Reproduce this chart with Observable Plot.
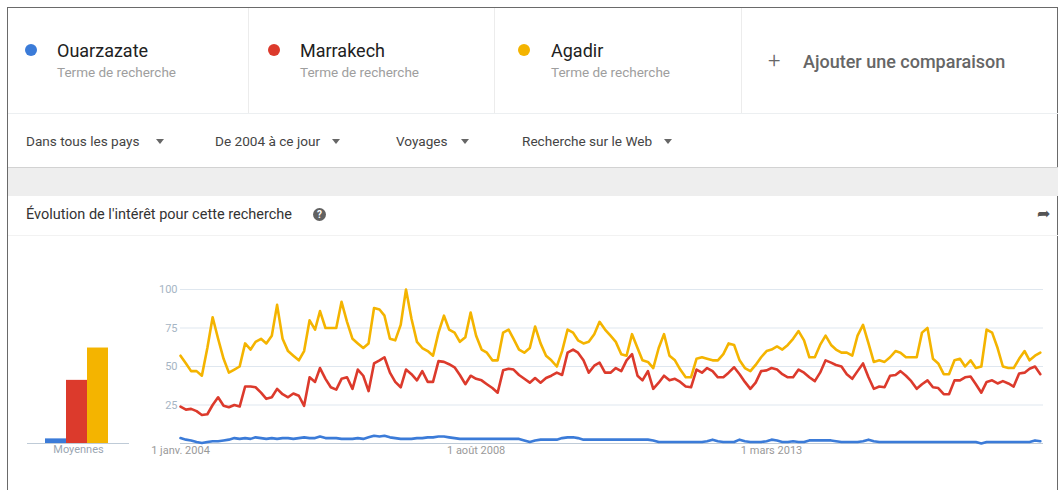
<!DOCTYPE html>
<html><head><meta charset="utf-8">
<script src="https://cdn.jsdelivr.net/npm/d3@7"></script>
<script src="https://cdn.jsdelivr.net/npm/@observablehq/plot@0.6"></script>
<style>
body{margin:0;background:#fff;font-family:Roboto,"Noto Sans",sans-serif;}
#page{position:relative;width:1060px;height:490px;overflow:hidden;background:#fff;}
.a{position:absolute;white-space:nowrap;}
.name{font-size:18px;line-height:18px;color:#212121;}
.sub{font-size:13.5px;line-height:14px;color:#9e9e9e;}
.dot{width:12px;height:12px;border-radius:50%;}
.flt{font-size:13.6px;line-height:14px;color:#444;}
.tri{width:0;height:0;border-left:4px solid transparent;border-right:4px solid transparent;border-top:5px solid #666;}
.vsep{width:1px;background:#ececec;top:8px;height:106px;}
</style></head><body><div id="page"></div>
<script>
// ---------- data ----------
const series = ["Ouarzazate", "Marrakech", "Agadir"];
const seriesColors = ["#3b7bd8", "#dc3a2c", "#f4b400"];
const subtitle = "Terme de recherche";
const filters = ["Dans tous les pays", "De 2004 à ce jour", "Voyages", "Recherche sur le Web"];
const sectionTitle = "Évolution de l'intérêt pour cette recherche";
const addLabel = "Ajouter une comparaison";
const averagesLabel = "Moyennes";
const averages = [3, 41, 62];
const yTicks = [25, 50, 75, 100];
const xTickDates = ["2004-01-01", "2008-08-01", "2013-03-01"];
const xTickLabels = ["1 janv. 2004", "1 août 2008", "1 mars 2013"];
const firstMonth = "2004-01-01";

const ouarzazate = [
 3.5,2.5,2,1,0.3,1,1.5,1.5,2,2.5,
 3.5,3,3.5,3,4,3.5,3,3.5,3,3.5,
 3.5,3,3.5,4,3.5,3.5,4.5,3.5,3.5,3.5,
 3,3,3,3.5,3,4,5,4.5,5,4,
 3.5,3,3,3,3.5,3.5,4,4,4.5,4.5,
 4,3.5,3,3,3,3,3,3,3,3,
 3,3,3,3,2,1,2,2.5,2.5,2.5,
 2.5,3.5,4,4,3.5,2.5,2.5,2.5,2.5,2.5,
 2.5,2.5,2.5,2.5,2.5,2.5,2.5,2.5,2,1,
 1,1,1,1,1,1,1,1,1.5,2.5,
 1.5,1,1,1,2.5,1.5,1,1,1,1.5,
 2.5,2,1,1,1.5,1,1,2,2,2,
 2,2,1.5,1,1,1,1,1.5,2.5,1.5,
 1,1,1,1,1,1,1,1,1,1,
 1,1,1,1,1,1,1,1,1,0,
 1,1,1,1,1,1,1,1,1,2,1.5
];
const marrakech = [
 24,22,22.5,21,18.5,19,25,30,24.5,23.5,
 25,24,37,37,36.5,33,29,30,35.5,32,
 30,32.5,31,24.5,43,40,49,42,36.5,35,
 42,43,35.5,48,44,34,52,54,56,46,
 40,36.5,48,45,41,47,40,40,53.5,53,
 51.5,49.5,44.5,38.5,44,42,41,38.5,36,33,
 47.5,48.5,48,44.5,42,39.5,42.5,39.5,42.5,44,
 46,44.5,59,61,59,54,46,50.5,52.5,46,
 46,49,47,54,58,44,41,47,35.5,39.5,
 44,41,42,40,37,36.5,48,46,49,47,
 43,43,46,49.5,45,40,35.5,39.5,47,47.5,
 49,48,45,43,43,48,46,43,40.5,46,
 54,52.5,51,50,45,42,47,52,43,35.5,
 37,36.5,44,44.5,47,44,40.5,35.5,38.5,41,
 36.5,36,32,32,41,41,43,43.5,38.5,33,
 40,41,39,40.5,39,37,45.5,46,48.5,50,45
];
const agadir = [
 57,52,47,47,44,62,82,68,55,46,
 48,50,65,61,66,68,65,70,90,68,
 60,57,54,60,80,74,86,75,75,75,
 92,79,68,65,62,65,88,87,83,68,
 67,77,100,81,66,62,60,57,72,83,
 74,72,66,69,85,70,61,59,54,54,
 72,74,68,61,59,62,76,65,57,54,
 50,60,74,72,67,65,66,71,79,74,
 70,66,58,57,71,62,54,53,49,62,
 71,57,54,48,43,43,55,56,55,54,
 54,58,65,64,54,49,47,51,56,60,
 61,63,61,64,68,73,67,56,56,64,
 70,64,61,59,59,57,70,77,65,53,
 54,53,56,60,59,56,56,56,72,75,
 55,52,45,45,54,55,50,54,49,50,
 74,72,62,50,49,49,55,60,54,57,59
];

// ---------- page chrome ----------
const page = document.getElementById("page");
function el(cls, style, text) {
  const d = document.createElement("div");
  d.className = "a " + cls;
  Object.assign(d.style, style);
  if (text != null) d.textContent = text;
  page.appendChild(d);
  return d;
}
// outer frame
el("", {left:"7px", top:"7px", width:"1049px", height:"500px", borderLeft:"1.5px solid #6a6a6a", borderTop:"1.5px solid #6a6a6a", borderRight:"1.5px solid #6a6a6a"});
// header row
const dotX = [25, 268, 518];
const nameX = [57, 300, 551];
series.forEach((s, i) => {
  el("dot", {left:dotX[i] + "px", top:"44px", background: seriesColors[i]});
  el("name", {left:nameX[i] + "px", top:"42px"}, s);
  el("sub", {left:nameX[i] + "px", top:"65px"}, subtitle);
});
[248, 494, 741].forEach(x => el("vsep", {left:x + "px"}));
el("", {left:"8px", top:"113px", width:"1050px", height:"1px", background:"#eceff1"});
el("", {left:"768px", top:"50px", fontSize:"22px", lineHeight:"22px", color:"#666", fontWeight:"300"}, "+");
el("name", {left:"803px", top:"53px", color:"#666", fontWeight:"500"}, addLabel);
// filter row
const filterX = [26, 215, 396, 522];
const triX = [156, 332, 461, 664];
filters.forEach((f, i) => {
  el("flt", {left:filterX[i] + "px", top:"134px"}, f);
  el("tri", {left:triX[i] + "px", top:"139px"});
});
el("", {left:"8px", top:"167px", width:"1050px", height:"28px", background:"#eeeeee", borderTop:"1px solid #d2d2d2"});
// section title
el("", {left:"26px", top:"207px", fontSize:"14.5px", lineHeight:"15px", color:"#333"}, sectionTitle);
el("", {left:"313px", top:"208px", width:"13px", height:"13px", borderRadius:"50%", background:"#616161", color:"#fff", fontSize:"10px", lineHeight:"13px", textAlign:"center", fontWeight:"700"}, "?");
el("", {left:"1037px", top:"205px", fontSize:"16px", lineHeight:"18px", color:"#555"}, "➦");
el("", {left:"8px", top:"235px", width:"1050px", height:"1px", background:"#f2f2f2"});

// ---------- charts ----------
const start = new Date(firstMonth + "T00:00:00Z");
const rows = [];
[ouarzazate, marrakech, agadir].forEach((vals, s) =>
  vals.forEach((v, i) => rows.push({date: d3.utcMonth.offset(start, i), value: v, series: series[s]})));
const tickDates = xTickDates.map(d => new Date(d + "T00:00:00Z"));

const lineChart = Plot.plot({
  width: 910, height: 200,
  marginLeft: 40, marginRight: 7, marginTop: 19, marginBottom: 27,
  style: {fontFamily: "Roboto, sans-serif", fontSize: "11px", background: "transparent", overflow: "visible"},
  x: {type: "utc", domain: [start, new Date("2017-05-19T00:00:00Z")]},
  y: {domain: [0, 100]},
  color: {domain: series, range: seriesColors},
  marks: [
    Plot.gridY(yTicks, {stroke: "#dfe7ef", strokeOpacity: 1}),
    Plot.ruleY([0], {stroke: "#bfcbd7", strokeWidth: 1}),
    Plot.axisY(yTicks, {tickSize: 0, tickPadding: 3, fill: "#a6b5c4", label: null}),
    Plot.axisX(tickDates, {tickSize: 0, tickPadding: 3, fill: "#9a9a9a", label: null,
      tickFormat: (d, i) => xTickLabels[i]}),
    Plot.line(rows, {x: "date", y: "value", z: "series", stroke: "series", strokeWidth: 2.6, curve: "linear"})
  ]
});
lineChart.style.position = "absolute";
lineChart.style.left = "140px";
lineChart.style.top = "270px";
page.appendChild(lineChart);

const avgRows = series.map((s, i) => ({series: s, value: averages[i]}));
const barChart = Plot.plot({
  width: 120, height: 200,
  marginLeft: 7, marginRight: 11, marginTop: 19, marginBottom: 27,
  style: {fontFamily: "Roboto, sans-serif", fontSize: "11px", background: "transparent", overflow: "visible"},
  x: {domain: series, paddingInner: 0, paddingOuter: 0.89, align: 0.47, axis: null},
  y: {domain: [0, 100], axis: null},
  color: {domain: series, range: seriesColors},
  marks: [
    Plot.barY(avgRows, {x: "series", y: "value", fill: "series", inset: 0}),
    Plot.ruleY([0], {stroke: "#bfcbd7", strokeWidth: 1}),
    Plot.text([averagesLabel], {text: d => d, frameAnchor: "bottom", dy: 9, fill: "#9aa6b2"})
  ]
});
barChart.style.position = "absolute";
barChart.style.left = "20px";
barChart.style.top = "270px";
page.appendChild(barChart);
</script></body></html>
